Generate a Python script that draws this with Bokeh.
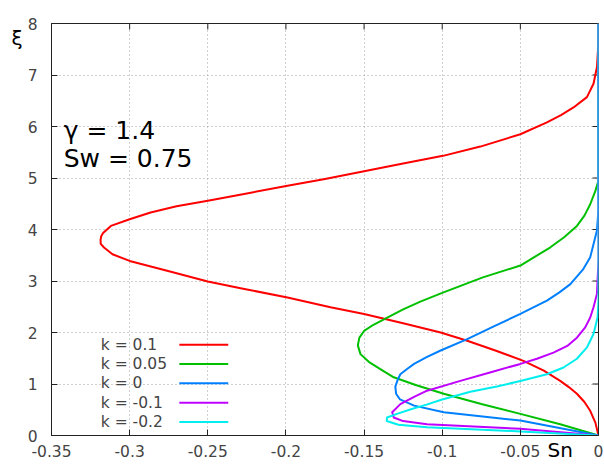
from bokeh.plotting import figure
from bokeh.models import Range1d, Label, FixedTicker, LinearAxis
from bokeh.core.properties import value
from bokeh.embed import file_html
from bokeh.resources import INLINE

# ---- data ----
labels = ["k = 0.1", "k = 0.05", "k = 0", "k = -0.1", "k = -0.2"]
colors = ["#ff0000", "#00c000", "#0080ff", "#c000ff", "#00eeee"]

sn_k01 = [0, -0.002, -0.0053, -0.009, -0.0138, -0.019, -0.0245, -0.035, -0.048, -0.066, -0.084,
          -0.101, -0.125, -0.150, -0.1715, -0.199, -0.229, -0.250, -0.276, -0.300, -0.311, -0.3164,
          -0.3185, -0.3186, -0.3182, -0.317, -0.312, -0.300, -0.2866, -0.270, -0.250, -0.225, -0.199,
          -0.175, -0.150, -0.125, -0.0995, -0.0756, -0.050, -0.033, -0.024, -0.016, -0.0074, -0.0032,
          -0.001, -0.0003, 0, 0]
xi_k01 = [0, 0.25, 0.48, 0.65, 0.81, 0.94, 1.06, 1.26, 1.45, 1.65, 1.84,
          2.00, 2.18, 2.36, 2.49, 2.68, 2.86, 2.99, 3.20, 3.39, 3.52, 3.65,
          3.72, 3.80, 3.87, 3.93, 4.07, 4.20, 4.33, 4.45, 4.56, 4.70, 4.85,
          4.98, 5.13, 5.28, 5.43, 5.61, 5.85, 6.08, 6.22, 6.37, 6.57, 6.83,
          7.15, 7.50, 7.70, 8]

sn_k005 = [0, -0.0245, -0.050, -0.075, -0.099, -0.117, -0.131, -0.1396, -0.147, -0.1523, -0.154,
           -0.153, -0.150, -0.144, -0.137, -0.125, -0.114, -0.100, -0.087, -0.074, -0.050, -0.031,
           -0.022, -0.0138, -0.009, -0.0053, -0.002, 0, 0]
xi_k005 = [0, 0.22, 0.42, 0.61, 0.81, 0.98, 1.13, 1.29, 1.43, 1.58, 1.75,
           1.90, 2.03, 2.15, 2.26, 2.45, 2.60, 2.77, 2.92, 3.07, 3.30, 3.65,
           3.85, 4.07, 4.27, 4.49, 4.75, 4.95, 8]

sn_k0 = [0, -0.050, -0.080, -0.099, -0.118, -0.127, -0.1295, -0.130, -0.1285, -0.1268, -0.1225,
         -0.118, -0.110, -0.101, -0.084, -0.067, -0.050, -0.033, -0.025, -0.018, -0.010, -0.0053,
         -0.001, 0, 0]
xi_k0 = [0, 0.29, 0.39, 0.45, 0.58, 0.70, 0.81, 0.95, 1.08, 1.19, 1.29,
         1.39, 1.52, 1.65, 1.87, 2.12, 2.36, 2.62, 2.78, 2.94, 3.22, 3.46,
         3.98, 4.40, 8]

sn_km01 = [0, -0.050, -0.1097, -0.125, -0.131, -0.132, -0.1268, -0.118, -0.1097, -0.0884, -0.070,
           -0.050, -0.0394, -0.0288, -0.020, -0.0138, -0.0085, -0.0053, -0.0032, -0.001, 0, 0]
xi_km01 = [0, 0.13, 0.22, 0.28, 0.35, 0.45, 0.61, 0.75, 0.87, 1.06, 1.22,
           1.39, 1.49, 1.61, 1.74, 1.90, 2.10, 2.29, 2.49, 2.75, 3.40, 8]

sn_km02 = [0, -0.050, -0.1097, -0.128, -0.1355, -0.1353, -0.128, -0.120, -0.110, -0.100, -0.082,
           -0.065, -0.050, -0.033, -0.0224, -0.0138, -0.0074, -0.0032, -0.0006, 0, 0]
xi_km02 = [0, 0.08, 0.16, 0.21, 0.28, 0.35, 0.43, 0.51, 0.60, 0.70, 0.85,
           0.95, 1.06, 1.19, 1.32, 1.49, 1.71, 1.97, 2.29, 2.62, 8]

x_ticks = [-0.35, -0.3, -0.25, -0.2, -0.15, -0.1, -0.05, 0]
x_tick_labels = ["-0.35", "-0.3", "-0.25", "-0.2", "-0.15", "-0.1", "-0.05", "0"]
y_ticks = [0, 1, 2, 3, 4, 5, 6, 7, 8]
y_tick_labels = ["0", "1", "2", "3", "4", "5", "6", "7", "8"]

series_sn = [sn_k01, sn_k005, sn_k0, sn_km01, sn_km02]
series_xi = [xi_k01, xi_k005, xi_k0, xi_km01, xi_km02]

# ---- figure ----
FONT = "DejaVu Sans"
TICK_COL = "#444444"
FRAME_COL = "#222222"
X0, X1, Y0, Y1 = -0.35, 0.0, 0.0, 8.0
W, H = 604, 464
BL, BR, BT, BB = 51, 6, 23, 29

p = figure(width=W, height=H, output_backend="svg", toolbar_location=None,
           x_range=Range1d(X0, X1), y_range=Range1d(Y0, Y1),
           min_border_left=BL, min_border_right=BR, min_border_top=BT, min_border_bottom=BB)
p.background_fill_color = "white"
p.border_fill_color = "white"
p.outline_line_color = FRAME_COL
p.outline_line_width = 1

for ax, ticks, labs in ((p.xaxis[0], x_ticks, x_tick_labels), (p.yaxis[0], y_ticks, y_tick_labels)):
    ax.ticker = FixedTicker(ticks=ticks)
    ax.major_label_overrides = {t: l for t, l in zip(ticks, labs)}
    ax.major_tick_in = 6
    ax.major_tick_out = 0
    ax.minor_tick_in = 0
    ax.minor_tick_out = 0
    ax.axis_line_color = FRAME_COL
    ax.major_tick_line_color = FRAME_COL
    ax.major_label_text_font = FONT
    ax.major_label_text_font_size = "15.5px"
    ax.major_label_text_color = TICK_COL
    ax.axis_label_text_font = FONT
    ax.axis_label_text_font_size = "20px"
    ax.axis_label_text_font_style = "normal"
    ax.axis_label_text_color = "black"
p.xaxis.major_label_standoff = 9
p.yaxis.major_label_standoff = 14

# axis titles (gnuplot style: xi at top-left, Sn at bottom-right)
p.yaxis.axis_label = "\nξ"
p.yaxis.axis_label_orientation = "horizontal"
p.yaxis.axis_label_align = "end"
p.yaxis.axis_label_standoff = 2

sn_title_x = -0.0245
sn_axis = LinearAxis(ticker=FixedTicker(ticks=[sn_title_x]),
                     major_label_overrides={sn_title_x: "Sn"},
                     major_tick_in=0, major_tick_out=0, minor_tick_in=0, minor_tick_out=0,
                     axis_line_alpha=0, major_label_standoff=-22,
                     major_label_text_font=FONT, major_label_text_font_size="20px",
                     major_label_text_color="black")
p.add_layout(sn_axis, "below")

p.xgrid.ticker = FixedTicker(ticks=x_ticks)
p.ygrid.ticker = FixedTicker(ticks=y_ticks)
for g in (p.xgrid, p.ygrid):
    g.grid_line_color = "#a0a0a0"
    g.grid_line_dash = "1 3"
    g.grid_line_width = 1

# mirrored inward ticks on top and right border
fw, fh = W - BL - BR, H - BT - BB
tick_dy = 6 * (Y1 - Y0) / fh
tick_dx = 6 * (X1 - X0) / fw
p.segment(x0=x_ticks, y0=[Y1] * len(x_ticks), x1=x_ticks, y1=[Y1 - tick_dy] * len(x_ticks),
          line_color=FRAME_COL, line_width=1)
p.segment(x0=[X1] * len(y_ticks), y0=y_ticks, x1=[X1 - tick_dx] * len(y_ticks), y1=y_ticks,
          line_color=FRAME_COL, line_width=1)

for sn, xi, col in zip(series_sn, series_xi, colors):
    p.line(sn, xi, line_color=col, line_width=2, line_join="round")

# legend (gnuplot style: text left, sample right)
leg_text_x = -0.3185
leg_line_x0 = -0.2682
leg_line_x1 = -0.2369
leg_y0 = 1.763
leg_dy = 0.375
leg_ys = [leg_y0 - i * leg_dy for i in range(len(labels))]
p.text(x=[leg_text_x] * len(labels), y=leg_ys, text=labels,
       text_font=value(FONT), text_font_size="15.5px", text_color=TICK_COL,
       text_baseline="middle", text_align="left")
p.segment(x0=[leg_line_x0] * len(labels), y0=leg_ys, x1=[leg_line_x1] * len(labels), y1=leg_ys,
          line_color=colors, line_width=2)

# annotations
p.add_layout(Label(x=-0.3422, y=5.918, text="γ = 1.4", text_font=FONT,
                   text_font_size="25px", text_color="black", text_baseline="alphabetic"))
p.add_layout(Label(x=-0.3422, y=5.375, text="Sw = 0.75", text_font=FONT,
                   text_font_size="25px", text_color="black", text_baseline="alphabetic"))

open("out.html", "w").write(file_html(p, INLINE))
